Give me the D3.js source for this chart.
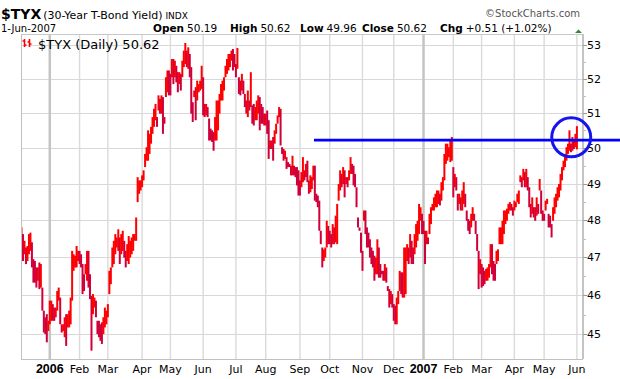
<!DOCTYPE html>
<html><head><meta charset="utf-8">
<script src="https://cdn.jsdelivr.net/npm/d3@7"></script>
<style>body{margin:0;background:#fff}svg{display:block}</style>
</head><body>
<svg id="c" width="620" height="379"></svg>
<script>
// Daily high / low of $TYX, one entry per trading day (5-Dec-2005 .. 1-Jun-2007)
const highs = [
47.80,47.62,47.44,47.26,47.30,47.62,47.66,47.40,46.95,46.90,
46.73,46.73,46.86,46.82,46.20,45.60,45.43,45.51,45.34,45.86,
45.86,45.77,45.68,45.68,46.11,46.20,45.94,45.25,45.25,45.43,
45.51,45.51,45.60,45.94,47.17,47.08,47.04,47.30,47.17,47.17,
47.08,46.82,46.55,46.82,47.17,47.17,46.55,45.98,46.03,45.94,
45.86,45.34,45.34,45.25,45.30,45.43,45.68,45.60,45.77,46.64,
46.73,47.26,47.44,47.62,47.53,47.75,47.53,47.62,47.71,47.44,
47.17,47.35,47.57,47.44,47.53,47.62,47.62,48.07,49.18,49.09,
49.09,49.23,49.37,49.83,50.02,50.50,50.40,50.60,50.88,51.12,
51.26,50.88,51.51,51.41,
51.51,51.46,50.88,52.04,52.24,52.24,52.14,52.58,52.58,52.53,
52.38,52.19,52.19,52.14,52.53,52.83,53.06,52.83,52.93,52.73,
52.34,51.31,51.65,51.75,51.94,51.84,51.94,52.38,52.04,51.26,
51.26,51.17,50.84,50.55,50.50,50.45,50.88,51.36,51.36,51.55,
51.84,51.94,52.04,52.38,52.58,52.73,52.73,52.83,52.88,52.73,
52.43,52.91,52.04,51.94,52.14,51.94,51.55,51.36,51.65,51.36,
52.19,51.22,51.26,51.17,51.36,51.51,51.46,51.26,51.17,50.98,
50.98,51.07,50.79,50.21,50.21,50.31,50.50,50.69,50.93,51.17,
51.12,50.02,49.97,49.92,49.74,49.60,49.55,49.50,49.78,49.50,
49.46,49.46,49.37,
49.09,49.32,49.74,49.37,49.55,49.64,49.09,49.23,49.18,49.50,
49.50,48.72,48.67,48.53,47.71,47.26,47.21,47.26,47.98,47.84,
47.71,47.62,47.89,47.80,48.12,48.44,48.99,49.37,49.27,49.46,
49.37,49.18,49.18,49.37,49.74,49.55,49.50,49.27,48.90,48.07,
47.80,47.66,47.17,48.26,48.26,47.80,47.66,47.48,47.26,47.17,
47.04,46.99,47.48,47.26,46.82,46.64,46.64,46.82,46.73,46.24,
46.16,46.11,46.03,45.77,45.73,45.94,46.11,46.64,46.60,46.60,
47.26,47.26,47.35,47.26,47.62,47.44,47.26,47.62,47.89,47.98,
48.44,48.35,48.17,47.98,47.71,47.71,47.53,48.17,48.35,48.44,
48.62,48.72,48.81,48.81,48.72,49.04,49.18,
49.83,50.12,50.12,50.02,50.21,50.31,49.46,49.27,49.18,48.72,
48.72,48.62,48.81,49.04,48.72,48.26,48.03,47.98,48.17,48.35,
48.17,47.98,47.62,47.17,46.95,46.82,46.73,46.64,46.69,46.73,
46.82,47.35,47.35,46.90,46.82,47.17,47.21,47.80,47.80,47.98,
48.26,48.26,48.31,48.44,48.49,48.44,48.35,48.53,48.49,48.72,
48.81,49.23,49.18,49.41,49.32,49.41,49.18,48.90,48.44,48.62,
48.35,48.35,48.62,48.44,49.13,48.81,48.26,48.17,48.53,48.58,
48.17,48.12,47.89,48.35,48.62,48.72,48.90,48.99,49.27,49.46,
49.64,49.83,50.02,50.12,50.50,50.12,50.31,50.21,50.40,50.62
];
const lows = [
47.48,46.90,47.08,46.82,46.90,47.08,47.17,46.73,46.33,46.33,
46.20,46.38,46.16,46.20,45.60,45.04,45.00,44.79,45.08,45.25,
45.34,45.34,45.34,45.43,45.60,45.86,45.25,45.04,45.08,44.92,
44.70,45.17,45.17,45.25,45.86,46.64,46.73,46.73,46.90,46.82,
46.73,46.03,46.11,46.55,46.38,46.20,45.90,44.58,45.51,45.68,
45.43,45.00,44.92,44.83,44.75,45.00,45.17,45.25,45.43,46.03,
46.29,46.73,46.82,47.08,47.26,47.17,46.82,47.08,47.17,46.99,
46.73,46.90,46.82,46.99,47.08,47.17,47.44,47.44,48.49,48.72,
48.81,48.90,49.09,49.46,49.64,49.64,49.83,50.12,50.40,50.60,
50.79,50.60,51.07,50.98,
50.98,50.40,50.69,51.46,51.60,51.51,51.51,52.04,51.84,52.04,
51.89,51.60,51.84,51.65,52.04,52.34,52.43,52.34,52.29,52.04,
50.98,50.74,51.46,50.79,51.36,51.60,51.65,51.70,50.93,50.88,
50.93,50.88,50.21,50.21,50.17,49.92,50.21,50.21,50.50,50.98,
51.36,51.36,51.65,52.04,52.14,52.24,52.34,52.53,52.24,52.34,
52.04,52.29,51.55,51.51,51.65,51.55,51.17,50.98,50.88,51.07,
51.17,50.69,50.64,50.79,50.79,50.98,50.50,50.69,50.69,50.64,
50.64,50.40,49.69,49.97,49.97,49.64,50.12,50.40,50.69,50.88,
50.07,49.83,49.64,49.69,49.41,49.46,49.46,49.23,49.23,49.23,
49.18,48.95,48.67,
48.67,48.90,49.04,49.09,49.18,49.04,48.72,48.76,48.85,49.09,
48.53,48.49,48.35,47.71,47.35,46.73,46.90,46.99,47.26,47.35,
47.35,47.26,47.35,47.35,47.40,47.35,48.53,48.81,48.90,48.99,
48.62,48.99,48.90,49.09,49.27,49.27,48.95,48.90,48.35,47.80,
47.71,47.12,46.64,47.98,47.62,47.26,47.26,46.99,46.82,46.73,
46.38,46.55,46.55,46.46,46.46,46.55,46.38,46.38,46.33,46.11,
45.68,45.77,45.68,45.34,45.25,45.25,45.77,46.11,46.03,45.94,
45.94,46.03,46.90,46.82,46.99,46.82,46.82,47.08,47.26,47.44,
47.62,47.98,47.62,47.62,46.82,47.35,47.35,47.62,47.89,48.26,
48.26,48.35,48.35,48.44,48.40,48.53,48.81,
49.09,49.55,49.64,49.74,49.60,49.64,48.62,48.90,48.81,48.26,
48.44,48.26,48.26,48.44,48.35,47.98,47.71,47.62,47.80,47.98,
47.98,47.62,47.17,46.16,46.55,46.20,46.24,46.29,46.38,46.38,
46.46,46.73,46.55,46.38,46.38,46.82,46.90,47.35,47.35,47.35,
47.62,47.89,47.98,48.17,48.26,48.26,48.12,48.26,48.35,48.49,
48.44,49.04,48.90,49.09,48.90,48.90,48.81,48.35,48.07,48.17,
48.07,47.98,48.12,48.17,48.81,48.17,47.98,47.98,48.26,48.44,
47.80,47.80,47.53,47.98,48.17,48.35,48.53,48.62,48.81,49.09,
49.37,49.46,49.64,49.83,49.92,49.88,49.92,49.97,50.02,49.96
];
// month labels and the trading-day index of the first session of each month
const monthLabels = ["2006","Feb","Mar","Apr","May","Jun","Jul","Aug","Sep","Oct","Nov","Dec","2007","Feb","Mar","Apr","May","Jun"];
const monthStartIdx = [19,39,58,81,100,122,144,164,187,207,229,250,270,290,309,331,351,373];
const yTicks = [45,46,47,48,49,50,51,52,53];
const yMinor = [45.5,46.5,47.5,48.5,49.5,50.5,51.5,52.5];
// annotation: resistance level drawn from this session, and circled session / level
const resistanceLevel = [50.22];
const resistanceStartIdx = [196.4];
const circleAt = [369.2, 50.30];

const svg = d3.select("#c");
const W = 620, H = 379;
const P = {l:21, r:583, t:34, b:359};
const F = "'DejaVu Sans', Verdana, sans-serif";
const FA = "'Liberation Sans', Arial, sans-serif";
const isYear = i => /^\d{4}$/.test(monthLabels[i]);

const x = d3.scaleLinear().domain([0, highs.length - 1]).range([21.5, 576.9]);
const y = d3.scaleLog().domain([44.37, 53.33]).range([P.b, P.t]);

svg.append("rect").attr("width", W).attr("height", H).attr("fill", "#fff");

// grid
const g = svg.append("g");
g.selectAll("line.h").data(yTicks).join("line")
  .attr("x1", P.l).attr("x2", P.r)
  .attr("y1", d => Math.round(y(d)) + 0.5).attr("y2", d => Math.round(y(d)) + 0.5)
  .attr("stroke", "#d8d8d8").attr("stroke-width", 1);
g.selectAll("line.v").data(monthStartIdx).join("line")
  .attr("x1", d => x(d)).attr("x2", d => x(d))
  .attr("y1", P.t).attr("y2", P.b)
  .attr("stroke", (d, i) => isYear(i) ? "#c4c4c4" : "#dadada")
  .attr("stroke-width", (d, i) => isYear(i) ? 2.5 : 1.4);

// frame
svg.append("line").attr("x1", P.l).attr("x2", P.r).attr("y1", P.t + 0.5).attr("y2", P.t + 0.5).attr("stroke", "#c8c8c8");
svg.append("line").attr("x1", P.l).attr("x2", P.r).attr("y1", P.b + 0.5).attr("y2", P.b + 0.5).attr("stroke", "#c0c0c0");
svg.append("line").attr("x1", P.l + 0.5).attr("x2", P.l + 0.5).attr("y1", P.t).attr("y2", P.b).attr("stroke", "#c0c0c0");
svg.append("line").attr("x1", P.r).attr("x2", P.r).attr("y1", P.t).attr("y2", P.b).attr("stroke", "#c4c4c4").attr("stroke-width", 2);

// price bars
svg.append("clipPath").attr("id", "clip").append("rect")
  .attr("x", P.l + 1).attr("y", P.t + 1).attr("width", P.r - P.l - 2).attr("height", P.b - P.t - 1);
const bars = highs.map((h, i) => ({i, hi: Math.max(h, lows[i]), lo: Math.min(h, lows[i])}));
svg.append("g").attr("clip-path", "url(#clip)")
  .selectAll("rect").data(bars).join("rect")
  .attr("x", d => x(d.i) - 1).attr("width", 2)
  .attr("y", d => y(d.hi))
  .attr("height", d => Math.max(1, y(d.lo) - y(d.hi)))
  .attr("fill", (d, k) => {
    if (k === 0) return "#ff0000";
    const p = bars[k - 1];
    return (d.hi + d.lo) >= (p.hi + p.lo) ? "#ff0000" : "#d0003a";
  });

// right axis
const ax = svg.append("g");
ax.selectAll("line.t").data(yTicks).join("line")
  .attr("x1", P.r).attr("x2", P.r + 4)
  .attr("y1", d => Math.round(y(d)) + 0.5).attr("y2", d => Math.round(y(d)) + 0.5)
  .attr("stroke", "#999");
ax.selectAll("line.m").data(yMinor).join("line")
  .attr("x1", P.r).attr("x2", P.r + 3)
  .attr("y1", d => Math.round(y(d)) + 0.5).attr("y2", d => Math.round(y(d)) + 0.5)
  .attr("stroke", "#bbb");
ax.selectAll("text").data(yTicks).join("text")
  .attr("x", 587).attr("y", d => y(d) + 4)
  .attr("font-family", F).attr("font-size", 11).attr("fill", "#000")
  .text(d => d);

// bottom axis labels
svg.append("g").selectAll("text").data(monthStartIdx).join("text")
  .attr("x", d => x(d)).attr("y", 373)
  .attr("text-anchor", "middle")
  .attr("font-family", (d, i) => isYear(i) ? FA : F)
  .attr("font-size", (d, i) => isYear(i) ? 12.5 : 11)
  .attr("font-weight", (d, i) => isYear(i) ? "bold" : "normal")
  .attr("fill", "#000")
  .text((d, i) => monthLabels[i]);

// annotation: horizontal resistance line and circle
svg.append("line")
  .attr("x1", x(resistanceStartIdx[0])).attr("x2", W)
  .attr("y1", y(resistanceLevel[0])).attr("y2", y(resistanceLevel[0]))
  .attr("stroke", "#0000ff").attr("stroke-width", 2.6);
svg.append("circle")
  .attr("cx", x(circleAt[0])).attr("cy", y(circleAt[1])).attr("r", 19.5)
  .attr("fill", "none").attr("stroke", "#1414f0").attr("stroke-width", 3);

// legend
const lg = svg.append("g");
lg.append("path")
  .attr("d", "M24.5,39V47M22.5,41H24.5M24.5,45H26.5M29.5,39V47M27.5,42H29.5M29.5,44H31.5")
  .attr("stroke", "#ff0000").attr("stroke-width", 1.6).attr("fill", "none");
lg.append("text").attr("x", 38).attr("y", 49)
  .attr("font-family", F).attr("font-size", 13).attr("fill", "#000")
  .text("$TYX (Daily) 50.62");

// header
const h1 = svg.append("text").attr("x", 1).attr("y", 19).attr("font-family", F).attr("fill", "#000");
h1.append("tspan").attr("font-size", 14).attr("font-weight", "bold").text("$TYX");
h1.append("tspan").attr("font-size", 11).attr("dx", 2).text("(30-Year T-Bond Yield)");
h1.append("tspan").attr("font-size", 9).attr("dx", 3).text("INDX");

svg.append("text").attr("x", 1).attr("y", 32).attr("font-family", F).attr("font-size", 10).text("1-Jun-2007");

const stats = [["Open","50.19",153],["High","50.62",230],["Low","49.96",300],["Close","50.62",362],["Chg","+0.51 (+1.02%)",440]];
stats.forEach(s => {
  const t = svg.append("text").attr("x", s[2]).attr("y", 32).attr("font-family", F).attr("font-size", 10.5);
  t.append("tspan").attr("font-weight", "bold").text(s[0]);
  t.append("tspan").attr("dx", 3).text(s[1]);
});
svg.append("path").attr("d", "M575,33L578.5,29.5L582,33Z").attr("fill", "#2e8b2e");
svg.append("text").attr("x", 580).attr("y", 17).attr("text-anchor", "end")
  .attr("font-family", F).attr("font-size", 10).attr("fill", "#555")
  .text("©StockCharts.com");
</script>
</body></html>
